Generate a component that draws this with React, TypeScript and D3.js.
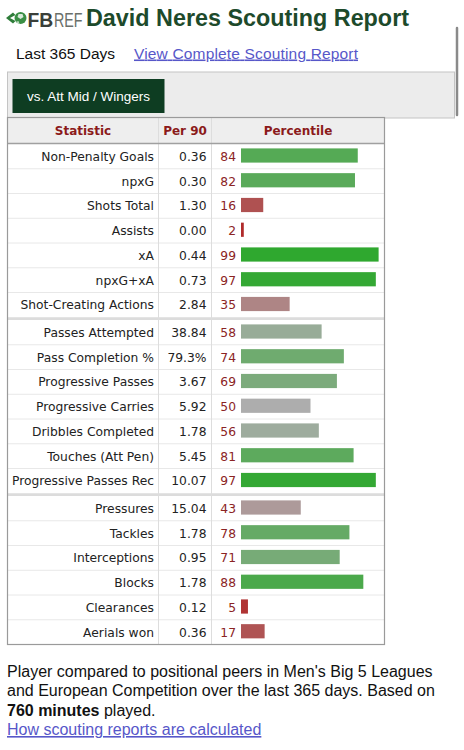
import React from "react";
import * as d3 from "d3";

const statNames = [
  "Non-Penalty Goals", "npxG", "Shots Total", "Assists", "xA", "npxG+xA", "Shot-Creating Actions",
  "Passes Attempted", "Pass Completion %", "Progressive Passes", "Progressive Carries", "Dribbles Completed", "Touches (Att Pen)", "Progressive Passes Rec",
  "Pressures", "Tackles", "Interceptions", "Blocks", "Clearances", "Aerials won",
];
const per90Values = [
  "0.36", "0.30", "1.30", "0.00", "0.44", "0.73", "2.84",
  "38.84", "79.3%", "3.67", "5.92", "1.78", "5.45", "10.07",
  "15.04", "1.78", "0.95", "1.78", "0.12", "0.36",
];
const percentiles = [
  84, 82, 16, 2, 99, 97, 35,
  58, 74, 69, 50, 56, 81, 97,
  43, 78, 71, 88, 5, 17,
];
const groupSizes = [7, 7, 6];
const headers = ["Statistic", "Per 90", "Percentile"];

const W = 464, H = 750;
const tableL = 7.5, tableR = 384.5, tableT = 117.5;
const col1 = 158.5, col2 = 211.5;
const headerBottom = 144;
const rowH = 24.75, sepH = 2.75;

const groupOf: number[] = [];
groupSizes.forEach((n, g) => { for (let k = 0; k < n; k++) groupOf.push(g); });
const rowTop = (i: number) => headerBottom + i * rowH + groupOf[i] * sepH;
const tableB = rowTop(statNames.length - 1) + rowH;

const xBar = d3.scaleLinear().domain([0, 100]).range([241, 380]);
const color = d3.scaleLinear<string>()
  .domain([0, 50, 100])
  .range(["#b02626", "#adadad", "#2ca82c"])
  .interpolate(d3.interpolateRgb);

const tableFont = "'DejaVu Sans', Verdana, sans-serif";
const sans = "'Liberation Sans', Arial, Helvetica, sans-serif";

export default function App() {
  const sepIdx: number[] = [];
  let acc = 0;
  groupSizes.slice(0, -1).forEach((n) => { acc += n; sepIdx.push(acc); });
  return (
    <svg width={W} height={H} style={{ position: "absolute", left: 0, top: 0, background: "#fff" }}>
      {/* Logo */}
      <g>
        <path d="M6,18 L13,12.5 L15.5,15 L10,18 L15.5,21 L13,23.5 Z" fill="#2f7d3a" />
        <circle cx={20.5} cy={18} r={6} fill="#3a8f45" />
        <path d="M18.5,14 L22.5,14 L23.5,17 L20.5,19 L17.5,17 Z" fill="#fff" opacity={0.8} />
        <path d="M15.5,22 L18.5,21 L19.5,24 Z" fill="#fff" opacity={0.7} />
        <g transform="translate(27.5,26.5) scale(0.92,1)">
          <text x={0} y={0} fontFamily={sans} fontWeight={700} fontSize={21} fill="#3a3f3a">FB</text>
        </g>
        <g transform="translate(54,26.5) scale(0.68,1)">
          <text x={0} y={0} fontFamily={sans} fontWeight={400} fontSize={21} fill="#6a6f6a">REF</text>
        </g>
      </g>
      <text x={86} y={26} fontFamily={sans} fontWeight={700} fontSize={23.5} fill="#1d4a2b" textLength={323} lengthAdjust="spacingAndGlyphs">David Neres Scouting Report</text>

      <text x={16} y={58.5} fontFamily={sans} fontSize={15.5} fill="#111">Last 365 Days</text>
      <text x={134} y={58.5} fontFamily={sans} fontSize={15.5} fill="#5757c9" style={{ textDecoration: "underline" }} textLength={224}>View Complete Scouting Report</text>

      {/* scrollbar */}
      <line x1={457} y1={28} x2={457} y2={115} stroke="#8a8a8a" strokeWidth={2.5} strokeLinecap="round" />

      {/* gray panel */}
      <rect x={7.5} y={72} width={447} height={46} fill="#ececec" stroke="#c4c4c4" strokeWidth={1} />
      <rect x={12.5} y={79} width={152} height={34} fill="#0e3d22" />
      <text x={88.5} y={96.5} dy="0.35em" textAnchor="middle" fontFamily={sans} fontSize={13.5} fill="#fff">vs. Att Mid / Wingers</text>

      {/* table */}
      <rect x={tableL} y={tableT} width={tableR - tableL} height={tableB - tableT} fill="#fff" />
      <rect x={tableL} y={tableT} width={tableR - tableL} height={headerBottom - tableT} fill="#eeeeee" />
      {statNames.map((_, i) => i > 0 && groupOf[i] === groupOf[i - 1] ? (
        <line key={"d" + i} x1={tableL} x2={tableR} y1={rowTop(i)} y2={rowTop(i)} stroke="#d0d0d0" strokeDasharray="1,1" />
      ) : null)}
      {sepIdx.map((i) => (
        <rect key={"s" + i} x={tableL} y={rowTop(i) - sepH} width={tableR - tableL} height={sepH} fill="#dcdcdc" />
      ))}
      <line x1={col1} x2={col1} y1={tableT} y2={tableB} stroke="#dddddd" />
      <line x1={col2} x2={col2} y1={tableT} y2={tableB} stroke="#dddddd" />
      <line x1={tableL} x2={tableR} y1={headerBottom - 0.5} y2={headerBottom - 0.5} stroke="#a0a0a0" strokeWidth={1.5} />
      <rect x={tableL} y={tableT} width={tableR - tableL} height={tableB - tableT} fill="none" stroke="#9a9a9a" strokeWidth={1.2} />

      {/* headers */}
      {[(tableL + col1) / 2, (col1 + col2) / 2, (col2 + tableR) / 2].map((cx, k) => (
        <text key={"h" + k} x={cx} y={(tableT + headerBottom) / 2 + 0.5} dy="0.35em" textAnchor="middle" fontFamily={tableFont} fontWeight={700} fontSize={12} fill="#8b1a1a">{headers[k]}</text>
      ))}

      {/* rows */}
      {statNames.map((name, i) => {
        const t = rowTop(i);
        const cy = t + rowH / 2 + 0.3;
        return (
          <g key={"r" + i}>
            <text x={154} y={cy} dy="0.35em" textAnchor="end" fontFamily={tableFont} fontSize={12.3} fill="#222">{name}</text>
            <text x={206.5} y={cy} dy="0.35em" textAnchor="end" fontFamily={tableFont} fontSize={12.3} fill="#222">{per90Values[i]}</text>
            <text x={236} y={cy} dy="0.35em" textAnchor="end" fontFamily={tableFont} fontSize={12.3} fill="#8b2424">{percentiles[i]}</text>
            <rect x={xBar(0)} y={t + 4.4} width={xBar(percentiles[i]) - xBar(0)} height={14.2} fill={color(percentiles[i])} />
          </g>
        );
      })}

      {/* footer */}
      <text fontFamily={sans} fontSize={16} fill="#111">
        <tspan x={7} y={676.5}>Player compared to positional peers in Men's Big 5 Leagues</tspan>
        <tspan x={7} y={696}>and European Competition over the last 365 days. Based on</tspan>
        <tspan x={7} y={715.5}><tspan fontWeight={700}>760 minutes</tspan> played.</tspan>
      </text>
      <text x={7} y={735} fontFamily={sans} fontSize={16} fill="#5757c9" style={{ textDecoration: "underline" }}>How scouting reports are calculated</text>
    </svg>
  );
}
